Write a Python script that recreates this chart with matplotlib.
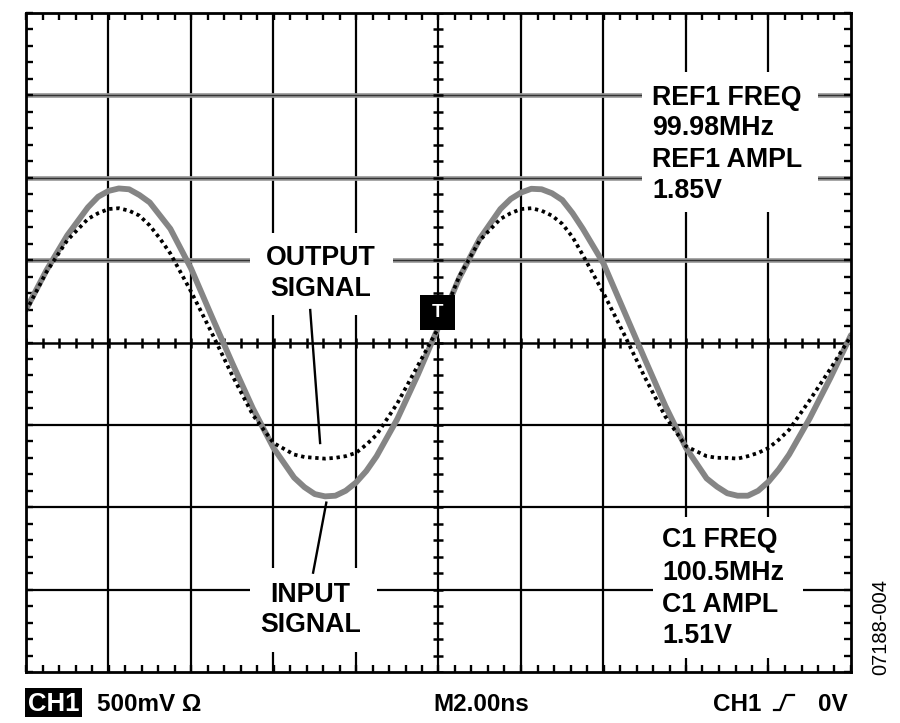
import numpy as np
import matplotlib
matplotlib.use("Agg")
import matplotlib.pyplot as plt
from matplotlib.patches import Rectangle
from matplotlib.lines import Line2D

plt.rcParams['font.family'] = ['Liberation Sans', 'DejaVu Sans']

# scope readings, 2 ns/div horizontally, 500 mV/div vertically
# (read every 0.5 ns, every 0.25 ns around the peaks and troughs)
t_ns = [-10.0, -9.5, -9.0, -8.5, -8.25, -8.0, -7.75, -7.5, -7.25, -7.0, -6.75, -6.5,
        -6.0, -5.5, -5.0, -4.5, -4.0, -3.5, -3.25, -3.0, -2.75, -2.5, -2.25, -2.0,
        -1.75, -1.5, -1.0, -0.5, 0.0, 0.5, 1.0, 1.5, 1.75, 2.0, 2.25, 2.5,
        2.75, 3.0, 3.25, 3.5, 4.0, 4.5, 5.0, 5.5, 6.0, 6.5, 6.75, 7.0,
        7.25, 7.5, 7.75, 8.0, 8.25, 8.5, 9.0, 9.5, 10.0]

# input signal (REF1, solid grey trace), volts
input_v = [0.20, 0.44, 0.65, 0.82, 0.885, 0.92, 0.935, 0.93, 0.895, 0.85, 0.77, 0.69,
           0.45, 0.16, -0.125, -0.40, -0.64, -0.82, -0.878, -0.92, -0.934, -0.93, -0.90, -0.85,
           -0.78, -0.69, -0.465, -0.195, 0.095, 0.39, 0.63, 0.81, 0.871, 0.91, 0.933, 0.93,
           0.906, 0.865, 0.785, 0.69, 0.48, 0.19, -0.10, -0.385, -0.64, -0.825, -0.875, -0.915,
           -0.93, -0.93, -0.90, -0.845, -0.77, -0.68, -0.46, -0.215, 0.045]

# output signal (C1, dotted trace), volts
output_v = [0.19, 0.43, 0.62, 0.75, 0.785, 0.81, 0.815, 0.80, 0.77, 0.71, 0.63, 0.54,
            0.31, 0.06, -0.20, -0.44, -0.61, -0.68, -0.695, -0.70, -0.705, -0.70, -0.69, -0.67,
            -0.62, -0.56, -0.37, -0.14, 0.09, 0.40, 0.62, 0.75, 0.785, 0.81, 0.815, 0.80,
            0.77, 0.72, 0.64, 0.53, 0.30, 0.05, -0.21, -0.45, -0.63, -0.69, -0.70, -0.70,
            -0.705, -0.69, -0.67, -0.64, -0.59, -0.53, -0.35, -0.16, 0.04]

ref_lines = ["REF1 FREQ", "99.98MHz", "REF1 AMPL", "1.85V"]
c1_lines = ["C1 FREQ", "100.5MHz", "C1 AMPL", "1.51V"]

W, H = 900, 723
fig = plt.figure(figsize=(W / 100, H / 100), dpi=100)
ax = fig.add_axes([26 / W, 1 - 672 / H, 825 / W, 659 / H])
ax.set_xlim(-10, 10)
ax.set_ylim(-2, 2)

# graticule
for x in np.arange(-8, 9, 2):
    ax.axvline(x, color='black', lw=1.6, zorder=1)
for y in [0.5, 1.0, 1.5]:
    ax.axhline(y, color='#9a9a9a', lw=3.4, zorder=1)
    ax.axhline(y, color='#333333', lw=1.0, zorder=1)
for y in [-0.5, -1.0, -1.5]:
    ax.axhline(y, color='black', lw=1.6, zorder=1)
ax.axhline(0, color='black', lw=1.8, zorder=1)

minor_x = np.arange(-10, 10.01, 0.4)
minor_y = np.arange(-2, 2.01, 0.1)
ax.plot(minor_x, np.zeros_like(minor_x), ls='none', marker='|', ms=7, mew=1.8,
        color='black', zorder=1)
ax.plot(np.zeros_like(minor_y), minor_y, ls='none', marker='_', ms=7, mew=1.8,
        color='black', zorder=1)

ax.set_xticks(minor_x)
ax.set_yticks(minor_y)
ax.tick_params(direction='in', length=5, width=1.7, top=True, right=True,
               labelbottom=False, labelleft=False)
for s in ax.spines.values():
    s.set_linewidth(2.0)
    s.set_zorder(5)

# traces
ax.plot(t_ns, input_v, color='#858585', lw=4.2, solid_joinstyle='round',
        solid_capstyle='round', zorder=2)
ax.plot(t_ns, output_v, color='black', lw=2.7, ls=(0, (0.9, 1.0)),
        dash_capstyle='butt', zorder=3)

# white label areas cut out of the graticule
for (x0, x1, y0, y1) in [(-4.57, -1.10, 0.167, 0.664),
                         (-4.57, -1.49, -1.878, -1.368),
                         (4.93, 9.20, 0.792, 1.641),
                         (5.20, 8.84, -1.915, -1.059)]:
    ax.add_patch(Rectangle((x0, y0), x1 - x0, y1 - y0, facecolor='white',
                           edgecolor='none', zorder=4))

fs = 19.3
bold = dict(fontsize=fs, fontweight='bold', color='black', zorder=6)
ax.text(-2.85, 0.470, "OUTPUT", ha='center', va='baseline', **bold)
ax.text(-2.85, 0.282, "SIGNAL", ha='center', va='baseline', **bold)
ax.text(-3.11, -1.573, "INPUT", ha='center', va='baseline', **bold)
ax.text(-3.11, -1.755, "SIGNAL", ha='center', va='baseline', **bold)
for txt, yb in zip(ref_lines, [1.441, 1.259, 1.065, 0.877]):
    ax.text(5.18, yb, txt, ha='left', va='baseline', **bold)
for txt, yb in zip(c1_lines, [-1.241, -1.441, -1.635, -1.823]):
    ax.text(5.42, yb, txt, ha='left', va='baseline', **bold)

# pointer lines
ax.plot([-3.11, -2.87], [0.197, -0.610], color='black', lw=1.7, zorder=6)
ax.plot([-3.04, -2.72], [-1.397, -0.972], color='black', lw=1.7, zorder=6)

# trigger marker
ax.add_patch(Rectangle((-0.45, 0.076), 0.85, 0.212, facecolor='black',
                       edgecolor='none', zorder=7))
ax.text(-0.02, 0.182, "T", ha='center', va='center', color='white',
        fontsize=13.5, fontweight='bold', zorder=8)

# readout line under the screen
def fx(px):
    return px / W


def fy(py):
    return 1 - py / H


fs2 = 17.5
fig.patches.append(Rectangle((fx(25), fy(717)), 57 / W, 29 / H,
                             transform=fig.transFigure, facecolor='black',
                             edgecolor='none'))
fig.text(fx(53.5), fy(711), "CH1", ha='center', va='baseline', color='white',
         fontsize=18.5, fontweight='bold')
fig.text(fx(97), fy(711), "500mV \u03a9", ha='left', va='baseline',
         fontsize=fs2, fontweight='bold')
fig.text(fx(433), fy(711), "M2.00ns", ha='left', va='baseline',
         fontsize=fs2, fontweight='bold')
fig.text(fx(713), fy(711), "CH1", ha='left', va='baseline',
         fontsize=fs2, fontweight='bold')
fig.text(fx(848), fy(711), "0V", ha='right', va='baseline',
         fontsize=fs2, fontweight='bold')
fig.add_artist(Line2D([fx(774), fx(780), fx(786), fx(794)],
                      [fy(710), fy(710), fy(695), fy(695)],
                      transform=fig.transFigure, color='black', lw=1.6))

fig.text(fx(881), fy(627), "07188-004", rotation=90, ha='center',
         va='center', fontsize=14.5)

fig.savefig("out.png", dpi=100)
